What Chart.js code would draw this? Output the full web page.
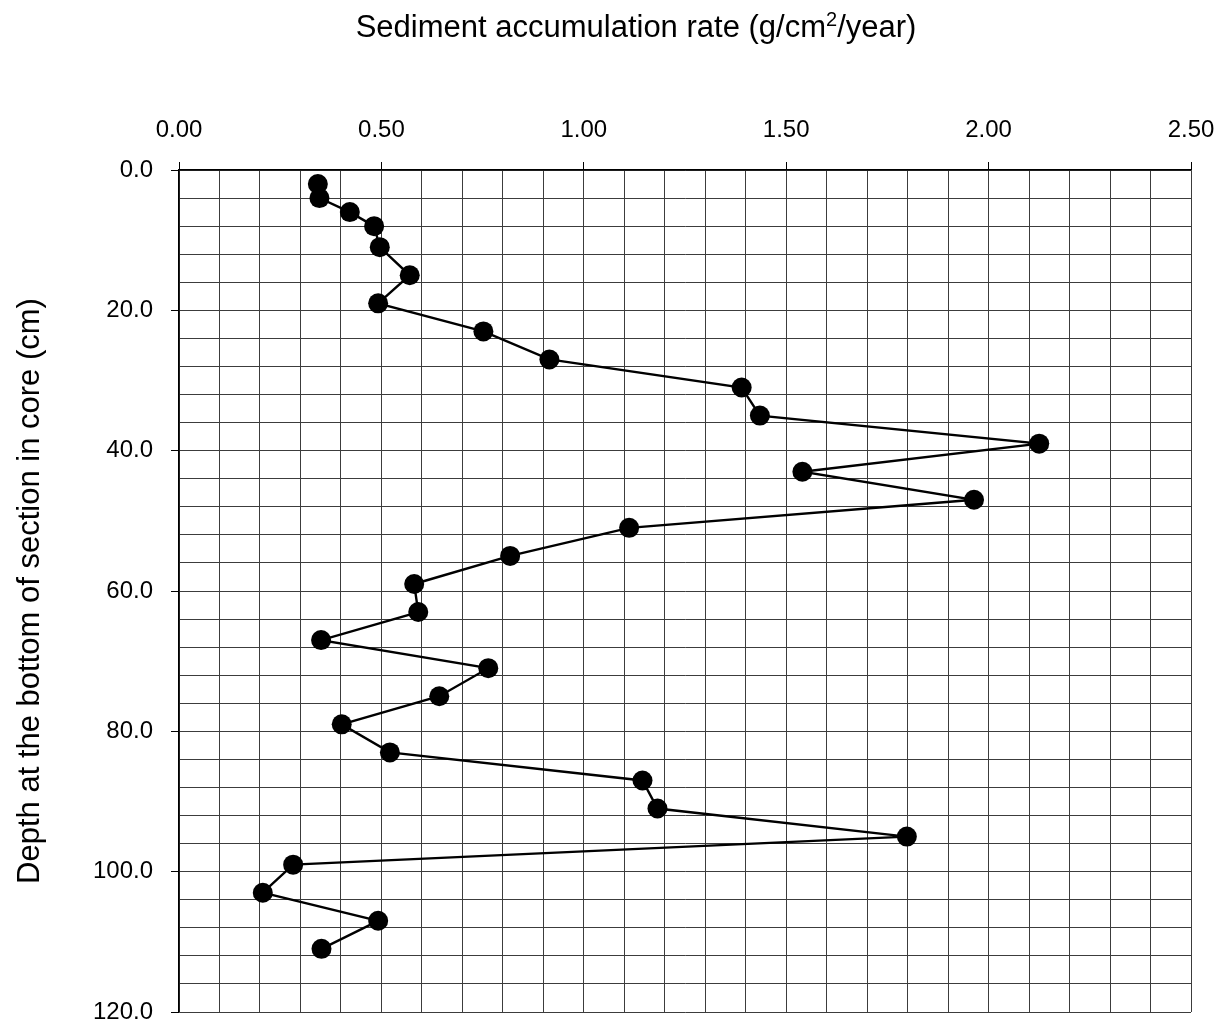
<!DOCTYPE html>
<html>
<head>
<meta charset="utf-8">
<script src="https://cdn.jsdelivr.net/npm/chart.js@4.4.1/dist/chart.umd.min.js"></script>
<style>
  body { margin: 0; background: #fff; }
  #wrap { width: 1218px; height: 1025px; }
</style>
</head>
<body>
<div id="wrap"><canvas id="grafico" width="1218" height="1025"></canvas></div>
<script>
// profundidade na base de cada secção (cm)
const depths = [2, 4, 6, 8, 11, 15, 19, 23, 27, 31, 35, 39, 43, 47, 51,
                55, 59, 63, 67, 71, 75, 79, 83, 87, 91, 95, 99, 103, 107, 111];
// taxa de acumulação (g/cm2/ano)
const rates = [0.343, 0.347, 0.422, 0.482, 0.496, 0.570, 0.492, 0.752, 0.915, 1.390,
               1.435, 2.125, 1.540, 1.964, 1.112, 0.818, 0.581, 0.591, 0.351, 0.764,
               0.643, 0.402, 0.521, 1.145, 1.182, 1.798, 0.282, 0.207, 0.492, 0.352];

const xMin = 0, xMax = 2.5, xStep = 0.1, xLabelEvery = 0.5;
const yMin = 0, yMax = 120, yStep = 4, yLabelEvery = 20;

// título do eixo X em partes: texto, expoente, texto
const xTitleParts = ['Sediment accumulation rate (g/cm', '2', '/year)'];
const yTitle = 'Depth at the bottom of section in core (cm)';

const FONT = "'Liberation Sans', Arial, sans-serif";

function isMajor(v, every) {
    const r = v / every;
    return Math.abs(r - Math.round(r)) < 1e-6;
}

// Desenha o título superior com o "2" em expoente
const tituloEixoX = {
    id: 'tituloEixoX',
    afterDraw(chart) {
        const ctx = chart.ctx;
        const big = `31px ${FONT}`;
        const small = `20px ${FONT}`;
        ctx.save();
        ctx.fillStyle = '#000';
        ctx.textBaseline = 'alphabetic';
        ctx.font = big;
        const w0 = ctx.measureText(xTitleParts[0]).width;
        const w2 = ctx.measureText(xTitleParts[2]).width;
        ctx.font = small;
        const w1 = ctx.measureText(xTitleParts[1]).width;
        const centro = 636, base = 37;
        let x = centro - (w0 + w1 + w2) / 2;
        ctx.textAlign = 'left';
        ctx.font = big;
        ctx.fillText(xTitleParts[0], x, base);
        x += w0;
        ctx.font = small;
        ctx.fillText(xTitleParts[1], x, base - 11);
        x += w1;
        ctx.font = big;
        ctx.fillText(xTitleParts[2], x, base);
        ctx.restore();
    }
};

const pontos = depths.map((d, i) => ({ x: rates[i], y: d }));

new Chart(document.getElementById('grafico').getContext('2d'), {
    type: 'scatter',
    data: {
        datasets: [{
            data: pontos,
            showLine: true,
            borderColor: '#000',
            borderWidth: 2.4,
            backgroundColor: '#000',
            pointBackgroundColor: '#000',
            pointBorderColor: '#000',
            pointRadius: 10,
            pointBorderWidth: 0
        }]
    },
    plugins: [tituloEixoX],
    options: {
        responsive: false,
        animation: false,
        layout: { padding: { left: 0, top: 0, right: 27, bottom: 13 } },
        plugins: {
            legend: { display: false },
            tooltip: { enabled: false }
        },
        scales: {
            x: {
                type: 'linear',
                position: 'top',
                min: xMin,
                max: xMax,
                afterFit: (scale) => {
                    scale.height = 170;
                    scale.paddingLeft = 0;
                    scale.paddingRight = 0;
                },
                ticks: {
                    stepSize: xStep,
                    autoSkip: false,
                    maxRotation: 0,
                    padding: 17,
                    color: '#000',
                    font: { family: FONT, size: 24 },
                    callback: (v) => isMajor(v, xLabelEvery) ? Number(v).toFixed(2) : ''
                },
                grid: {
                    color: '#3c3c3c',
                    lineWidth: 1,
                    tickLength: 8,
                    tickColor: (ctx) => (ctx.tick && isMajor(ctx.tick.value, xLabelEvery)) ? '#000' : 'rgba(0,0,0,0)'
                },
                border: { color: '#000', width: 1.5 },
                title: { display: false }
            },
            y: {
                type: 'linear',
                reverse: true,
                min: yMin,
                max: yMax,
                afterFit: (scale) => {
                    scale.width = 179;
                    scale.paddingTop = 0;
                    scale.paddingBottom = 0;
                },
                ticks: {
                    stepSize: yStep,
                    autoSkip: false,
                    padding: 18,
                    color: '#000',
                    font: { family: FONT, size: 24 },
                    callback: (v) => isMajor(v, yLabelEvery) ? Number(v).toFixed(1) : ''
                },
                grid: {
                    color: '#3c3c3c',
                    lineWidth: 1,
                    tickLength: 8,
                    tickColor: (ctx) => (ctx.tick && isMajor(ctx.tick.value, yLabelEvery)) ? '#000' : 'rgba(0,0,0,0)'
                },
                border: { color: '#000', width: 1.5 },
                title: {
                    display: true,
                    text: yTitle,
                    color: '#000',
                    font: { family: FONT, size: 31 },
                    padding: { top: 12, bottom: 0 }
                }
            }
        }
    }
});
</script>
</body>
</html>
